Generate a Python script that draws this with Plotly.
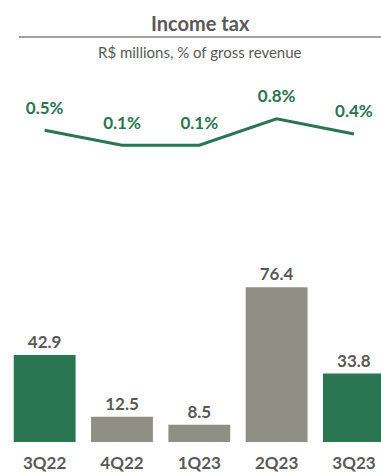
import plotly.graph_objects as go

# Quarterly income tax (R$ millions) and share of gross revenue (%)
quarters = ["3Q22", "4Q22", "1Q23", "2Q23", "3Q23"]
income_tax = [42.9, 12.5, 8.5, 76.4, 33.8]
pct_revenue = [0.5, 0.1, 0.1, 0.8, 0.4]
pct_labels = ["0.5%", "0.1%", "0.1%", "0.8%", "0.4%"]

GREEN = "#2a7552"
GRAY = "#908f85"
TEXT = "#595959"
bar_colors = [GREEN, GRAY, GRAY, GRAY, GREEN]

FONT = "Lato"

fig = go.Figure()

fig.add_trace(go.Bar(
    x=quarters,
    y=income_tax,
    marker=dict(color=bar_colors, line=dict(width=0)),
    text=[f"{v:.1f}" for v in income_tax],
    textposition="outside",
    textfont=dict(family=FONT, size=17, color=TEXT, weight="bold"),
    cliponaxis=False,
    yaxis="y",
    showlegend=False,
    hoverinfo="skip",
))

fig.add_trace(go.Scatter(
    x=quarters,
    y=pct_revenue,
    mode="lines+markers+text",
    line=dict(color=GREEN, width=3),
    marker=dict(size=18, opacity=0),
    text=pct_labels,
    textposition="top center",
    textfont=dict(family=FONT, size=17, color=GREEN, weight="bold"),
    cliponaxis=False,
    yaxis="y2",
    showlegend=False,
    hoverinfo="skip",
))

W, H = 381, 475
ml, mr, mt, mb = 6, 0, 0, 33

fig.update_layout(
    width=W,
    height=H,
    margin=dict(l=ml, r=mr, t=mt, b=mb, autoexpand=False),
    paper_bgcolor="white",
    plot_bgcolor="white",
    bargap=0.2,
    xaxis=dict(
        range=[-0.5, 4.35],
        showgrid=False,
        zeroline=False,
        showline=False,
        ticks="",
        automargin=False,
        ticklabelstandoff=9,
        tickfont=dict(family=FONT, size=17, color=TEXT, weight="bold"),
        fixedrange=True,
    ),
    yaxis=dict(
        domain=[0, 0.3667],
        range=[0, 80],
        visible=False,
        fixedrange=True,
    ),
    yaxis2=dict(
        domain=[0.663, 0.748],
        range=[0.0, 1.0],
        anchor="x",
        visible=False,
        fixedrange=True,
    ),
    annotations=[
        dict(
            text="<b>Income tax</b>",
            x=200, y=H - 23, xref="paper", yref="paper",
            showarrow=False,
            font=dict(family=FONT, size=20, color=TEXT),
        ),
        dict(
            text="R$ millions, % of gross revenue",
            x=200, y=H - 52, xref="paper", yref="paper",
            showarrow=False,
            font=dict(family=FONT, size=15, color=TEXT),
        ),
    ],
    shapes=[
        dict(
            type="line", xref="paper", yref="paper",
            x0=19, x1=W, y0=H - 37, y1=H - 37,
            line=dict(color="#a0a0a0", width=2),
        ),
    ],
)

# Convert pixel-based header positions to paper fractions
pw = W - ml - mr
ph = H - mt - mb
for a in fig.layout.annotations:
    a.x = (a.x - ml) / pw
    a.y = (a.y - mb) / ph
    a.xanchor = "center"
    a.yanchor = "middle"
for s in fig.layout.shapes:
    s.x0 = (s.x0 - ml) / pw
    s.x1 = (s.x1 - ml) / pw
    s.y0 = (s.y0 - mb) / ph
    s.y1 = (s.y1 - mb) / ph

fig.write_html("out.html")
